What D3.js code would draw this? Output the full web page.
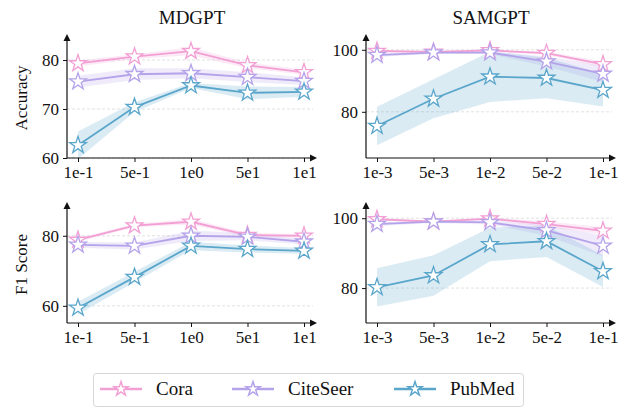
<!DOCTYPE html>
<html>
<head>
<meta charset="utf-8">
<script src="https://cdn.jsdelivr.net/npm/d3@7"></script>
<style>
  html, body { margin: 0; padding: 0; background: #fff; }
  svg { display: block; }
  svg text { font-family: "Liberation Serif", "Times New Roman", serif !important; fill: #111; }
</style>
</head>
<body>
<svg id="chart" width="629" height="409"></svg>
<script>
// ---------------- data ----------------
const seriesNames = ["Cora", "CiteSeer", "PubMed"];
const seriesColors = ["#f29fd4", "#b4a3ea", "#5aa6cb"];

const xLabelsMDGPT = ["1e-1", "5e-1", "1e0", "5e1", "1e1"];
const xLabelsSAMGPT = ["1e-3", "5e-3", "1e-2", "5e-2", "1e-1"];

const panelTitles = ["MDGPT", "SAMGPT"];
const rowLabels = ["Accuracy", "F1 Score"];

// MDGPT - Accuracy
const mdAccCora      = [79.3, 80.7, 81.8, 78.9, 77.5];
const mdAccCiteSeer  = [75.6, 77.1, 77.3, 76.5, 75.7];
const mdAccPubMed    = [62.6, 70.4, 74.8, 73.3, 73.5];
const mdAccCoraStd     = [0.6, 0.5, 0.8, 0.6, 0.5];
const mdAccCiteSeerStd = [1.2, 1.2, 1.0, 1.0, 0.8];
const mdAccPubMedStd   = [2.8, 1.0, 0.5, 1.3, 1.0];

// SAMGPT - Accuracy
const samAccCora      = [99.6, 99.3, 99.8, 98.9, 95.3];
const samAccCiteSeer  = [98.3, 99.1, 99.1, 96.2, 92.2];
const samAccPubMed    = [75.4, 84.2, 91.3, 90.9, 87.0];
const samAccCoraStd     = [0.3, 0.3, 0.3, 0.5, 1.0];
const samAccCiteSeerStd = [0.6, 0.4, 0.5, 1.6, 2.6];
const samAccPubMedStd   = [6.2, 6.3, 8.1, 6.5, 5.3];

// MDGPT - F1 Score
const mdF1Cora      = [78.8, 82.9, 84.0, 80.2, 80.0];
const mdF1CiteSeer  = [77.4, 77.1, 80.0, 79.7, 78.3];
const mdF1PubMed    = [59.4, 68.2, 77.1, 76.2, 75.7];
const mdF1CoraStd     = [0.5, 0.5, 0.8, 0.6, 0.5];
const mdF1CiteSeerStd = [0.8, 1.0, 1.5, 1.0, 0.8];
const mdF1PubMedStd   = [1.8, 1.5, 1.2, 1.0, 0.8];

// SAMGPT - F1 Score
const samF1Cora      = [99.7, 99.0, 99.9, 98.3, 96.4];
const samF1CiteSeer  = [98.3, 99.0, 98.8, 96.5, 92.1];
const samF1PubMed    = [80.2, 83.6, 92.5, 93.4, 84.8];
const samF1CoraStd     = [0.3, 0.3, 0.3, 0.8, 1.0];
const samF1CiteSeerStd = [0.5, 0.4, 0.6, 1.5, 3.0];
const samF1PubMedStd   = [5.5, 5.8, 4.8, 4.5, 4.5];

// y tick values per panel
const yTicksMdAcc  = [60, 70, 80];
const yTicksSamAcc = [80, 100];
const yTicksMdF1   = [60, 80];
const yTicksSamF1  = [80, 100];

// y domains (visible range of each panel)
const yDomMdAcc  = [60, 84.5];
const yDomSamAcc = [65.1, 103.8];
const yDomMdF1   = [55.1, 88.5];
const yDomSamF1  = [70.0, 103.5];

// ---------------- layout ----------------
const FONT = '"Liberation Serif", "Times New Roman", serif';
const svg = d3.select("#chart");

const cols = [
  { left: 67, right: 313, first: 78, last: 304, labels: xLabelsMDGPT },
  { left: 366, right: 612, first: 377, last: 603, labels: xLabelsSAMGPT }
];
const rows = [
  { top: 38, bottom: 158 },
  { top: 206, bottom: 323 }
];

const panels = [
  { r: 0, c: 0, dom: yDomMdAcc, ticks: yTicksMdAcc,
    vals: [mdAccCora, mdAccCiteSeer, mdAccPubMed], stds: [mdAccCoraStd, mdAccCiteSeerStd, mdAccPubMedStd] },
  { r: 0, c: 1, dom: yDomSamAcc, ticks: yTicksSamAcc,
    vals: [samAccCora, samAccCiteSeer, samAccPubMed], stds: [samAccCoraStd, samAccCiteSeerStd, samAccPubMedStd] },
  { r: 1, c: 0, dom: yDomMdF1, ticks: yTicksMdF1,
    vals: [mdF1Cora, mdF1CiteSeer, mdF1PubMed], stds: [mdF1CoraStd, mdF1CiteSeerStd, mdF1PubMedStd] },
  { r: 1, c: 1, dom: yDomSamF1, ticks: yTicksSamF1,
    vals: [samF1Cora, samF1CiteSeer, samF1PubMed], stds: [samF1CoraStd, samF1CiteSeerStd, samF1PubMedStd] }
];

const star = d3.symbol().type(d3.symbolStar).size(88);
const starSmall = d3.symbol().type(d3.symbolStar).size(62);

panels.forEach(p => {
  const col = cols[p.c], row = rows[p.r];
  const g = svg.append("g");
  const x = d3.scalePoint().domain(col.labels).range([col.first, col.last]);
  const y = d3.scaleLinear().domain(p.dom).range([row.bottom, row.top]);

  // grid lines
  g.selectAll("line.grid").data(p.ticks).join("line")
    .attr("x1", col.left).attr("x2", col.right)
    .attr("y1", d => y(d)).attr("y2", d => y(d))
    .attr("stroke", "#d9d9d9").attr("stroke-width", 0.8)
    .attr("stroke-dasharray", "3,2");

  // bands
  p.vals.forEach((vals, si) => {
    const std = p.stds[si];
    const area = d3.area()
      .x((d, i) => x(col.labels[i]))
      .y0((d, i) => y(d - std[i]))
      .y1((d, i) => y(d + std[i]));
    g.append("path").datum(vals).attr("d", area)
      .attr("fill", seriesColors[si]).attr("fill-opacity", 0.22).attr("stroke", "none");
  });

  // lines + markers
  p.vals.forEach((vals, si) => {
    const line = d3.line().x((d, i) => x(col.labels[i])).y(d => y(d));
    g.append("path").datum(vals).attr("d", line)
      .attr("fill", "none").attr("stroke", seriesColors[si]).attr("stroke-width", 1.8);
    g.selectAll(null).data(vals).join("path")
      .attr("d", star)
      .attr("transform", (d, i) => `translate(${x(col.labels[i])},${y(d)})`)
      .attr("fill", "#fff").attr("stroke", seriesColors[si]).attr("stroke-width", 1.3);
  });

  // axes
  const xa = g.append("g").attr("transform", `translate(0,${row.bottom})`)
    .call(d3.axisBottom(x).tickSize(4).tickPadding(4));
  xa.attr("font-family", FONT);
  xa.select(".domain").remove();
  xa.selectAll("text").style("font-size", "17px").style("font-family", FONT).attr("fill", "#111");
  xa.selectAll("line").attr("stroke", "#111").attr("stroke-width", 1);

  const ya = g.append("g").attr("transform", `translate(${col.left},0)`)
    .call(d3.axisLeft(y).tickValues(p.ticks).tickFormat(d3.format("d")).tickSize(4).tickPadding(4));
  ya.attr("font-family", FONT);
  ya.select(".domain").remove();
  ya.selectAll("text").style("font-size", "17px").style("font-family", FONT).attr("fill", "#111");
  ya.selectAll("line").attr("stroke", "#111").attr("stroke-width", 1);

  // spines
  g.append("line").attr("x1", col.left).attr("x2", col.right)
    .attr("y1", row.bottom).attr("y2", row.bottom).attr("stroke", "#111").attr("stroke-width", 1.2);
  g.append("line").attr("x1", col.left).attr("x2", col.left)
    .attr("y1", row.bottom).attr("y2", row.top).attr("stroke", "#111").attr("stroke-width", 1.2);
  // arrows
  g.append("path")
    .attr("d", `M${col.left - 3.5},${row.top + 3} L${col.left},${row.top - 4} L${col.left + 3.5},${row.top + 3} Z`)
    .attr("fill", "#111");
  g.append("path")
    .attr("d", `M${col.right - 3},${row.bottom - 3.5} L${col.right + 4},${row.bottom} L${col.right - 3},${row.bottom + 3.5} Z`)
    .attr("fill", "#111");

  // titles
  if (p.r === 0) {
    g.append("text").attr("x", (col.left + col.right + 4) / 2).attr("y", 24)
      .attr("text-anchor", "middle").style("font-size", "19px").style("font-family", FONT).text(panelTitles[p.c]);
  }
  if (p.c === 0) {
    const cy = (row.top + row.bottom) / 2;
    g.append("text").attr("transform", `translate(27,${cy}) rotate(-90)`)
      .attr("text-anchor", "middle").style("font-size", "17px").style("font-family", FONT).text(rowLabels[p.r]);
  }
});

// ---------------- legend ----------------
const lg = svg.append("g");
lg.append("rect").attr("x", 93.5).attr("y", 373.5).attr("width", 430).attr("height", 33)
  .attr("rx", 3).attr("fill", "#fff").attr("stroke", "#d6d6d6").attr("stroke-width", 1);
const legendX = [100, 232, 394];
seriesNames.forEach((name, i) => {
  const lx = legendX[i], ly = 389;
  lg.append("line").attr("x1", lx).attr("x2", lx + 42).attr("y1", ly).attr("y2", ly)
    .attr("stroke", seriesColors[i]).attr("stroke-width", 2.4);
  lg.append("path").attr("d", starSmall).attr("transform", `translate(${lx + 21},${ly})`)
    .attr("fill", "#fff").attr("stroke", seriesColors[i]).attr("stroke-width", 1.5);
  lg.append("text").attr("x", lx + 56).attr("y", ly + 6).style("font-size", "19px").style("font-family", FONT).text(name);
});
</script>
</body>
</html>
